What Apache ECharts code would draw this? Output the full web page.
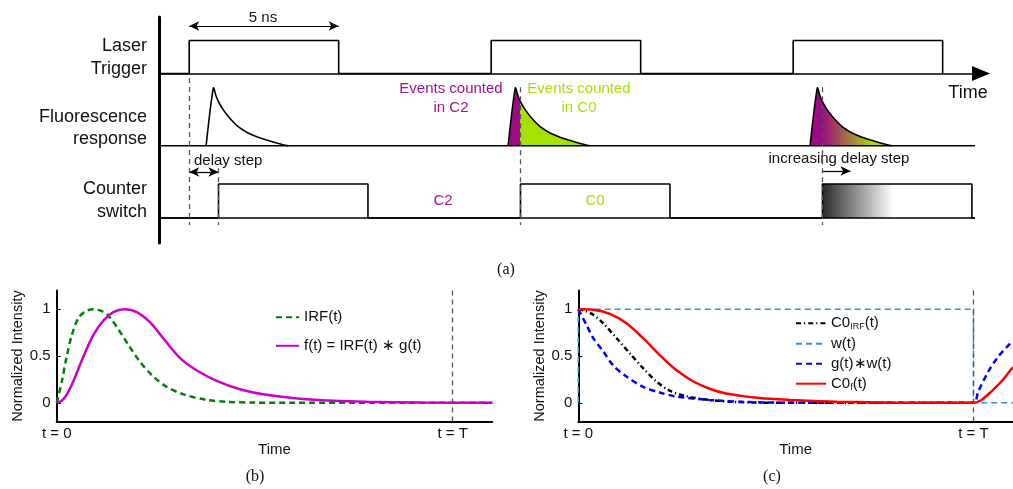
<!DOCTYPE html>
<html>
<head>
<meta charset="utf-8">
<script src="https://cdn.jsdelivr.net/npm/echarts@6/dist/echarts.min.js"></script>
<style>
  html, body { margin: 0; padding: 0; background: #fff; }
  #chart { width: 1013px; height: 489px; }
</style>
</head>
<body>
<div id="chart"></div>
<script>
// ---------- (a) timing diagram, times in ns ----------
const laserRise   = [1, 11, 21];
const laserFall   = [5.95, 15.95, 25.95];
const counterRise = [1.97, 11.97, 21.97];
const counterFall = [6.92, 16.92, 26.92];
const traceEnd    = 27.02;            // where the fluorescence / counter traces stop
// fluorescence decay, sampled at ns after each laser edge (normalised)
const fluoOffset = [0.56, 0.80, 0.89, 0.99, 1.13, 1.29, 1.46, 1.62, 1.79, 1.95,
                    2.12, 2.28, 2.45, 2.62, 2.78, 2.95, 3.11, 3.28];
const fluoLevel  = [0, 1, 0.86, 0.74, 0.62, 0.51, 0.41, 0.33, 0.27, 0.22,
                    0.18, 0.145, 0.115, 0.09, 0.065, 0.04, 0.018, 0];
const sweepSpan  = 1.7;   // ns over which the last pulse fades from C2 to C0 colour
const shadeSpan  = 2.35;  // ns of the shaded gate start

// ---------- (b) IRF and measured decay (t / T) ----------
const irfT = [0, 0.013, 0.025, 0.038, 0.054, 0.07, 0.092, 0.11, 0.126, 0.14, 0.155,
              0.181, 0.21, 0.244, 0.278, 0.32, 0.379, 0.43, 0.5, 0.6, 1.1];
const irfV = [0, 0.23, 0.49, 0.72, 0.9, 0.97, 1.0, 0.985, 0.95, 0.88, 0.79,
              0.62, 0.44, 0.28, 0.17, 0.09, 0.03, 0.01, 0.002, 0, 0];
const fT = [0, 0.012, 0.025, 0.042, 0.067, 0.092, 0.118, 0.143, 0.172, 0.202, 0.236,
            0.269, 0.311, 0.354, 0.404, 0.463, 0.53, 0.614, 0.698, 0.783, 0.917, 1.1];
const fV = [0, 0.02, 0.085, 0.23, 0.49, 0.72, 0.88, 0.97, 1.0, 0.97, 0.86,
            0.69, 0.48, 0.345, 0.235, 0.145, 0.085, 0.043, 0.021, 0.01, 0.003, 0];

// ---------- (c) gated counts (t / T) ----------
const c0IrfT = [0, 0.015, 0.038, 0.063, 0.097, 0.13, 0.164, 0.197, 0.231, 0.273, 0.332, 0.39, 0.5, 1.0];
const c0IrfV = [1, 0.985, 0.94, 0.85, 0.69, 0.53, 0.37, 0.23, 0.13, 0.07, 0.03, 0.01, 0, 0];
const wT = [0, 0, 1, 1, 1.1];
const wV = [0, 1, 1, 0, 0];
const gwT = [0, 0.021, 0.038, 0.063, 0.088, 0.122, 0.164, 0.206, 0.248, 0.332, 0.415, 0.56,
             1.0, 1.012, 1.037, 1.062, 1.092, 1.1];
const gwV = [1, 0.83, 0.69, 0.55, 0.40, 0.28, 0.17, 0.11, 0.067, 0.03, 0.01, 0,
             0, 0.12, 0.33, 0.49, 0.63, 0.66];
const c0fT = [0, 0.038, 0.08, 0.122, 0.164, 0.206, 0.248, 0.29, 0.332, 0.374, 0.458, 0.537,
              0.654, 0.74, 0.86, 1.0, 1.02, 1.045, 1.071, 1.094, 1.1];
const c0fV = [1, 0.995, 0.95, 0.85, 0.69, 0.51, 0.35, 0.23, 0.15, 0.10, 0.05, 0.03,
              0.012, 0.005, 0, 0, 0.03, 0.12, 0.23, 0.35, 0.38];

const yTicks = [0, 0.5, 1];
const xTickLabels = { 0: 't = 0', 1: 't = T' };

// ---------- layout / styling ----------
const FONT = '"Liberation Sans", Arial, Helvetica, sans-serif';
const SERIF = '"Liberation Serif", "Times New Roman", serif';
const INK = '#111';
const MAGENTA = '#9e0a84';
const LIME = '#a6e200';
const LANE = { laser: 0, fluo: -1, counter: -2 };
const AMP  = { laser: 0.457, fluo: 0.80, counter: 0.47 };
const fluoFill = ['none', 'split', 'sweep'];
const GUIDE_BOTTOM = -2.097;
const guides = [
  { t: laserRise[0],   top: -0.062 },
  { t: counterRise[0], top: -1.31 },
  { t: counterRise[1], top: -0.19 },
  { t: counterRise[2], top: -0.19 }
];

const pair = (ts, vs) => ts.map((t, i) => [t, vs[i]]);

// closed boxes sitting on a continuous baseline
function pulseBoxes(rise, fall, lane, amp, end) {
  const pts = [[0, lane]];
  rise.forEach((r, i) => {
    pts.push([r, lane], [r, lane + amp], [fall[i], lane + amp], [fall[i], lane]);
  });
  if (end != null) pts.push([end, lane]);
  return pts;
}

const chart = echarts.init(document.getElementById('chart'), null, { renderer: 'canvas' });

const arrowEnd = (coord) => ({ coord, symbol: 'arrow', symbolSize: [7, 10] });
const plainEnd = (coord) => ({ coord, symbol: 'none' });
const blackLine = { color: '#000', width: 1.6 };

const bottomAxisX = (gridIndex) => ({
  gridIndex, type: 'value', min: 0, max: 1.1,
  name: 'Time', nameLocation: 'middle', nameGap: 18,
  nameTextStyle: { fontSize: 15, color: INK, fontFamily: FONT },
  axisLine: { show: true, onZero: false, lineStyle: { color: '#000', width: 2 } },
  axisTick: { show: false },
  splitLine: { show: false },
  axisLabel: {
    customValues: [0, 1], margin: 5, fontSize: 15, color: INK, fontFamily: FONT,
    formatter: v => xTickLabels[v] || ''
  }
});
const bottomAxisY = (gridIndex) => ({
  gridIndex, type: 'value', min: -0.2, max: 1.2,
  name: 'Normalized Intensity', nameLocation: 'middle', nameRotate: 90, nameGap: 31,
  nameTextStyle: { fontSize: 14.5, color: INK, fontFamily: FONT },
  axisLine: { show: true, onZero: false, lineStyle: { color: '#000', width: 2 } },
  axisTick: { show: true, inside: true, length: 4, customValues: yTicks, lineStyle: { color: '#000', width: 1 } },
  splitLine: { show: false },
  axisLabel: { customValues: yTicks, margin: 6, fontSize: 15, color: INK, fontFamily: FONT,
               formatter: v => String(v) }
});
const periodLine = {
  silent: true, symbol: 'none', animation: false,
  label: { show: false },
  lineStyle: { color: '#555', type: [5, 4], width: 1.3 },
  data: [{ xAxis: 1 }]
};
const curve = (name, xi, data, color, type, width, extra) => Object.assign({
  name, type: 'line', xAxisIndex: xi, yAxisIndex: xi, data,
  showSymbol: false, symbol: 'none', smooth: 0.3,
  lineStyle: { color, type, width }, itemStyle: { color }, animation: false, z: 3
}, extra || {});
const legendBase = {
  orient: 'vertical', padding: 0, itemHeight: 14, selectedMode: false,
  itemStyle: { color: 'rgba(0,0,0,0)', borderWidth: 0, opacity: 0 }
};

const option = {
  animation: false,
  backgroundColor: '#fff',
  textStyle: { fontFamily: FONT },
  grid: [
    { left: 159, top: 17, width: 822, height: 226 },
    { left: 56.7, top: 290.5, width: 435.6, height: 131 },
    { left: 578.3, top: 290.5, width: 435.6, height: 131 }
  ],
  xAxis: [
    {
      gridIndex: 0, type: 'value', min: 0, max: 27.22,
      axisLine: { show: true, onZero: true, symbol: ['none', 'triangle'], symbolSize: [15, 18],
                  lineStyle: { color: '#000', width: 1.6 } },
      axisTick: { show: false }, axisLabel: { show: false }, splitLine: { show: false }
    },
    bottomAxisX(1),
    bottomAxisX(2)
  ],
  yAxis: [
    {
      gridIndex: 0, type: 'value', min: -2.346, max: 0.782,
      axisLine: { show: true, onZero: true, lineStyle: { color: '#000', width: 3 } },
      axisTick: { show: false }, axisLabel: { show: false }, splitLine: { show: false }
    },
    bottomAxisY(1),
    bottomAxisY(2)
  ],
  legend: [
    Object.assign({}, legendBase, {
      left: 275, top: 309.7, itemWidth: 23, itemGap: 13.6,
      data: ['IRF(t)', 'f(t) = IRF(t) ∗ g(t)'],
      textStyle: { fontSize: 15, color: INK, fontFamily: FONT }
    }),
    Object.assign({}, legendBase, {
      left: 795, top: 315.7, itemWidth: 30, itemGap: 5,
      data: ['C0_IRF(t)', 'w(t)', 'g(t)∗w(t)', 'C0_f(t)'],
      formatter: n => ({ 'C0_IRF(t)': 'C0{s|IRF}(t)', 'C0_f(t)': 'C0{s|f}(t)' }[n] || n),
      textStyle: {
        fontSize: 15, color: INK, fontFamily: FONT,
        rich: { s: { fontSize: 9, color: INK, fontFamily: FONT, padding: [7, 0, 0, 0] } }
      }
    })
  ],
  series: [
    // ----- (a) -----
    {
      name: 'laser', type: 'line', xAxisIndex: 0, yAxisIndex: 0,
      data: pulseBoxes(laserRise, laserFall, LANE.laser, AMP.laser),
      showSymbol: false, symbol: 'none', lineStyle: blackLine, z: 3,
      markLine: {
        silent: true, animation: false, label: { show: false },
        lineStyle: { color: '#000', type: 'solid', width: 1.2 },
        data: [
          [arrowEnd([laserRise[0], 0.657]), arrowEnd([laserFall[0], 0.657])],
          [arrowEnd([laserRise[0], -1.363]), arrowEnd([counterRise[0], -1.363])],
          [plainEnd([counterRise[2], -1.35]), arrowEnd([counterRise[2] + 0.93, -1.35])]
        ]
      }
    },
    {
      name: 'fluoBase', type: 'line', xAxisIndex: 0, yAxisIndex: 0,
      data: [[0, LANE.fluo], [traceEnd, LANE.fluo]],
      showSymbol: false, symbol: 'none', lineStyle: blackLine, z: 3
    },
    {
      name: 'counterBase', type: 'line', xAxisIndex: 0, yAxisIndex: 0,
      data: [[0, LANE.counter], [traceEnd, LANE.counter]],
      showSymbol: false, symbol: 'none', lineStyle: blackLine, z: 3
    },
    {
      name: 'counter', type: 'line', xAxisIndex: 0, yAxisIndex: 0,
      data: pulseBoxes(counterRise, counterFall, LANE.counter, AMP.counter, traceEnd),
      showSymbol: false, symbol: 'none', lineStyle: blackLine, z: 3,
      markLine: {
        silent: true, animation: false, label: { show: false }, symbol: 'none',
        lineStyle: { color: '#555', type: [5, 4], width: 1.3 },
        data: guides.map(g => [{ coord: [g.t, g.top] }, { coord: [g.t, GUIDE_BOTTOM] }])
      }
    },
    {
      name: 'gateShade', type: 'custom', xAxisIndex: 0, yAxisIndex: 0, z: 1,
      data: [[counterRise[2], 2]],
      renderItem: (params, api) => {
        const t0 = api.value(0);
        const a = api.coord([t0, LANE.counter + AMP.counter]);
        const b = api.coord([t0 + shadeSpan, LANE.counter]);
        return {
          type: 'rect',
          shape: { x: a[0], y: a[1], width: b[0] - a[0], height: b[1] - a[1] },
          style: {
            fill: new echarts.graphic.LinearGradient(a[0], 0, b[0], 0,
              [{ offset: 0, color: '#2a2a2a' }, { offset: 1, color: '#ffffff' }], true)
          }
        };
      }
    },
    {
      name: 'fluorescence', type: 'custom', xAxisIndex: 0, yAxisIndex: 0, z: 2,
      data: laserRise.map((r, i) => [r, i]),
      renderItem: (params, api) => {
        const t0 = api.value(0);
        const i = api.value(1);
        const pts = fluoOffset.map((o, k) => api.coord([t0 + o, LANE.fluo + AMP.fluo * fluoLevel[k]]));
        let fill = 'none';
        if (fluoFill[i] === 'split') {
          const x1 = pts[0][0], x2 = pts[pts.length - 1][0];
          const xs = api.coord([counterRise[i], LANE.fluo])[0];
          const f = (xs - x1) / (x2 - x1);
          fill = new echarts.graphic.LinearGradient(x1, 0, x2, 0, [
            { offset: 0, color: MAGENTA }, { offset: f, color: MAGENTA },
            { offset: f, color: LIME }, { offset: 1, color: LIME }
          ], true);
        } else if (fluoFill[i] === 'sweep') {
          const xa = api.coord([counterRise[i], LANE.fluo])[0];
          const xb = api.coord([counterRise[i] + sweepSpan, LANE.fluo])[0];
          fill = new echarts.graphic.LinearGradient(xa, 0, xb, 0, [
            { offset: 0, color: MAGENTA }, { offset: 1, color: LIME }
          ], true);
        }
        return {
          type: 'group',
          children: [
            { type: 'polygon', shape: { points: pts }, style: { fill, stroke: null } },
            { type: 'polyline', shape: { points: pts, smooth: 0.25 }, style: { fill: null, stroke: '#000', lineWidth: 1.6, lineJoin: 'round' } }
          ]
        };
      }
    },
    // ----- (b) -----
    curve('IRF(t)', 1, pair(irfT, irfV), '#008000', [6, 4], 2.5, { markLine: periodLine, z: 3 }),
    curve('f(t) = IRF(t) ∗ g(t)', 1, pair(fT, fV), '#cc00cc', 'solid', 2.5, { z: 4 }),
    // ----- (c) -----
    curve('w(t)', 2, pair(wT, wV), '#3d8fd4', [6, 4], 1.5, { smooth: false, z: 2, markLine: periodLine }),
    curve('C0_IRF(t)', 2, pair(c0IrfT, c0IrfV), '#000', [5, 3, 1.2, 3], 2.5, { z: 3 }),
    curve('g(t)∗w(t)', 2, pair(gwT, gwV), '#0000ff', [6, 4], 2.5, { z: 4 }),
    curve('C0_f(t)', 2, pair(c0fT, c0fV), '#ff0000', 'solid', 2.5, { z: 5 })
  ],
  graphic: [
    { type: 'text', x: 147, y: 57.5, style: { text: 'Laser\nTrigger', align: 'right', verticalAlign: 'middle', font: '18px ' + FONT, lineHeight: 23, fill: INK } },
    { type: 'text', x: 147, y: 128, style: { text: 'Fluorescence\nresponse', align: 'right', verticalAlign: 'middle', font: '18px ' + FONT, lineHeight: 22, fill: INK } },
    { type: 'text', x: 147, y: 200.5, style: { text: 'Counter\nswitch', align: 'right', verticalAlign: 'middle', font: '18px ' + FONT, lineHeight: 23, fill: INK } },
    { type: 'text', x: 263, y: 18, style: { text: '5 ns', align: 'center', verticalAlign: 'middle', font: '15px ' + FONT, fill: INK } },
    { type: 'text', x: 968, y: 93, style: { text: 'Time', align: 'center', verticalAlign: 'middle', font: '18px ' + FONT, fill: INK } },
    { type: 'text', x: 194, y: 161, style: { text: 'delay step', align: 'left', verticalAlign: 'middle', font: '15px ' + FONT, fill: INK } },
    { type: 'text', x: 839, y: 159, style: { text: 'increasing delay step', align: 'center', verticalAlign: 'middle', font: '15px ' + FONT, fill: INK } },
    { type: 'text', x: 451, y: 98.5, style: { text: 'Events counted\nin C2', align: 'center', verticalAlign: 'middle', font: '15px ' + FONT, lineHeight: 19, fill: '#a3108f' } },
    { type: 'text', x: 579, y: 98.5, style: { text: 'Events counted\nin C0', align: 'center', verticalAlign: 'middle', font: '15px ' + FONT, lineHeight: 19, fill: LIME } },
    { type: 'text', x: 443, y: 201, style: { text: 'C2', align: 'center', verticalAlign: 'middle', font: '15px ' + FONT, fill: '#a3108f' } },
    { type: 'text', x: 595, y: 201, style: { text: 'C0', align: 'center', verticalAlign: 'middle', font: '15px ' + FONT, fill: LIME } },
    { type: 'text', x: 506, y: 270, style: { text: '(a)', align: 'center', verticalAlign: 'middle', font: '16px ' + SERIF, fill: INK } },
    { type: 'text', x: 255, y: 477, style: { text: '(b)', align: 'center', verticalAlign: 'middle', font: '16px ' + SERIF, fill: INK } },
    { type: 'text', x: 772, y: 477, style: { text: '(c)', align: 'center', verticalAlign: 'middle', font: '16px ' + SERIF, fill: INK } }
  ]
};

chart.setOption(option);
</script>
</body>
</html>
